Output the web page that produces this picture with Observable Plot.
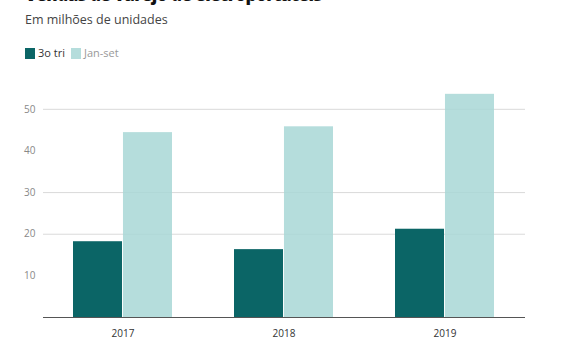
<!DOCTYPE html>
<html>
<head>
<meta charset="utf-8">
<script src="https://cdn.jsdelivr.net/npm/d3@7"></script>
<script src="https://cdn.jsdelivr.net/npm/@observablehq/plot@0.6"></script>
<style>
  html, body { margin: 0; padding: 0; background: #fff; overflow: hidden; }
  #wrap { position: relative; width: 574px; height: 350px; font-family: "Open Sans", sans-serif; }
  #title { position: absolute; left: 25px; top: -17px; margin: 0; font-size: 17px; font-weight: 800; color: #111; white-space: nowrap; line-height: 24px; letter-spacing: -0.5px; }
  #subtitle { position: absolute; left: 25px; top: 11px; font-size: 12.5px; color: #444; white-space: nowrap; line-height: 18px; }
  #legend { position: absolute; left: 25px; top: 45px; font-size: 11px; line-height: 16px; display: flex; align-items: center; white-space: nowrap; }
  .sw { display: inline-block; width: 10px; height: 11px; margin-right: 3px; }
  .item { display: inline-flex; align-items: center; margin-right: 6px; }
  #chart { position: absolute; left: 0; top: 70px; }
  #chart svg { overflow: visible; }
  g[aria-label^="y-axis"] text { fill: #888; }
  g[aria-label^="x-axis"] text { fill: #333; }
</style>
</head>
<body>
<div id="wrap">
  <h2 id="title">Vendas de varejo de eletroportáteis</h2>
  <div id="subtitle">Em milhões de unidades</div>
  <div id="legend"></div>
  <div id="chart"></div>
</div>
<script>
const years = ["2017", "2018", "2019"];
const terceiroTri = [18.2, 16.3, 21.2];
const janSet = [44.4, 45.8, 53.6];
const seriesNames = ["3o tri", "Jan-set"];
const seriesColors = ["#0b6566", "#a8d7d6"];
const legendColors = ["#0b6566", "#b5dddc"];
const legendTextColors = ["#333", "#999"];
const yTicks = [10, 20, 30, 40, 50];
const gridValues = [20, 30, 50];

const data3 = years.map((y, i) => ({year: y, value: terceiroTri[i]}));
const dataJ = years.map((y, i) => ({year: y, value: janSet[i]}));

const W = 574, H = 280, mL = 43, mR = 49, mT = 18, mB = 33;
const padIn = 0.382, padOut = 0.181;
const half = d3.scaleBand().domain(years).range([mL, W - mR]).paddingInner(padIn).paddingOuter(padOut).bandwidth() / 2;

const legend = document.getElementById("legend");
seriesNames.forEach((n, i) => {
  const it = document.createElement("span");
  it.className = "item";
  it.innerHTML = `<span class="sw" style="background:${legendColors[i]}"></span><span style="color:${legendTextColors[i]}">${n}</span>`;
  legend.appendChild(it);
});

const chart = Plot.plot({
  width: W, height: H,
  marginLeft: mL, marginRight: mR, marginTop: mT, marginBottom: mB,
  style: {fontFamily: "Open Sans, sans-serif", fontSize: "10px", background: "transparent"},
  x: {domain: years, paddingInner: padIn, paddingOuter: padOut, label: null, tickSize: 0, tickPadding: 12},
  y: {domain: [0, 55], ticks: yTicks, label: null, tickSize: 0, tickPadding: 8},
  marks: [
    Plot.ruleY(gridValues, {stroke: "#dadada"}),
    Plot.barY(data3, {x: "year", y: "value", fill: seriesColors[0], insetRight: half}),
    Plot.barY(dataJ, {x: "year", y: "value", fill: seriesColors[1], fillOpacity: 0.85, insetLeft: half}),
    Plot.ruleY([0], {stroke: "#555"})
  ]
});
document.getElementById("chart").appendChild(chart);
</script>
</body>
</html>
